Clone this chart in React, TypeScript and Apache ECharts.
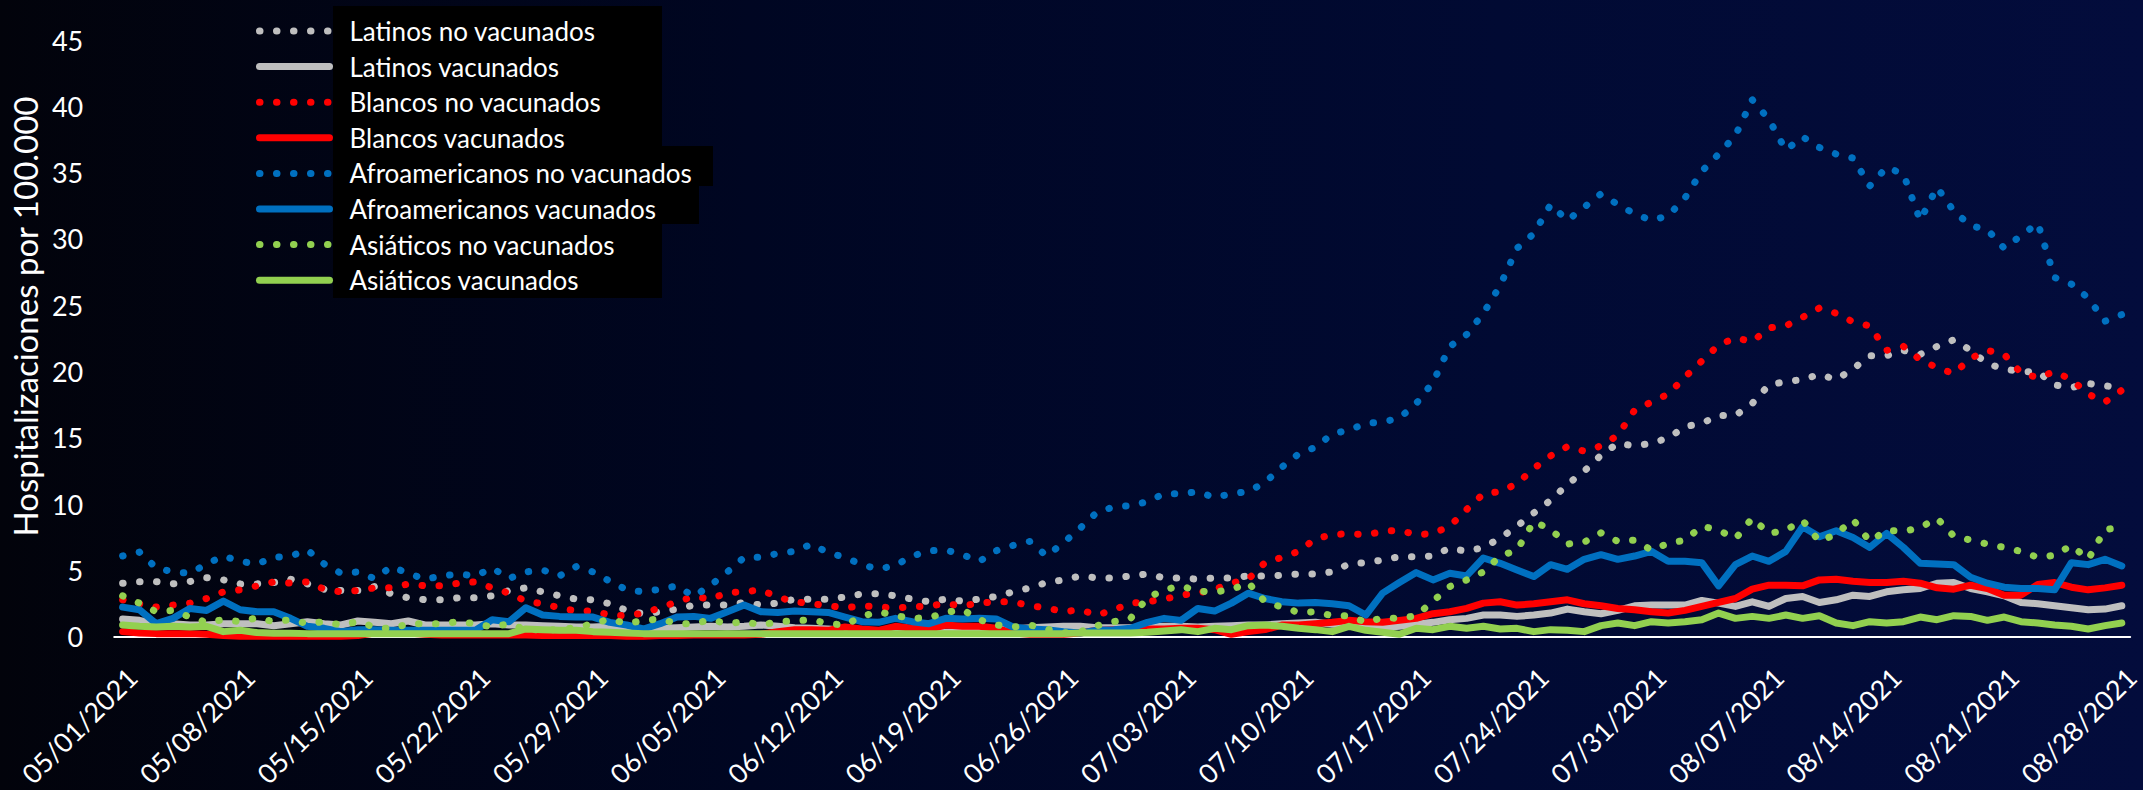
import React, { useEffect, useRef } from "react";
import * as echarts from "echarts";

// ---------- data ----------
const START = new Date(2021, 4, 1);
const categories: string[] = Array.from({ length: 120 }, (_, i) => {
  const d = new Date(START.getFullYear(), START.getMonth(), START.getDate() + i);
  const mm = String(d.getMonth() + 1).padStart(2, "0");
  const dd = String(d.getDate()).padStart(2, "0");
  return `${mm}/${dd}/${d.getFullYear()}`;
});

const yTicks = [0, 5, 10, 15, 20, 25, 30, 35, 40, 45];

const latinosNoVac = [
  4.05, 4.17, 4.17, 4.0, 4.17, 4.47, 4.3, 4.0, 4.0, 4.1,
  4.35, 4.0, 3.6, 3.5, 3.5, 3.8, 3.25, 2.95, 2.8, 2.8,
  2.95, 2.95, 3.1, 3.5, 3.7, 3.4, 3.1, 2.85, 2.8, 2.5,
  2.0, 1.75, 1.9, 2.1, 2.4, 2.4, 2.4, 2.6, 2.4, 2.55,
  2.85, 2.85, 2.85, 3.0, 3.25, 3.25, 3.1, 2.85, 2.65, 2.85,
  2.7, 2.85, 3.05, 3.4, 3.7, 4.1, 4.3, 4.6, 4.45, 4.45,
  4.6, 4.75, 4.45, 4.45, 4.35, 4.45, 4.45, 4.6, 4.6, 4.65,
  4.75, 4.75, 4.9, 5.5, 5.6, 5.8, 6.05, 6.05, 6.1, 6.7,
  6.45, 6.75, 7.45, 8.35, 9.35, 10.3, 11.5, 12.5, 13.7, 14.6,
  14.4, 14.6, 15.0, 15.85, 16.1, 16.7, 16.7, 17.6, 19.0, 19.25,
  19.4, 19.8, 19.4, 20.2, 21.2, 21.2, 21.6, 21.3, 21.9, 22.4,
  21.6, 20.6, 20.2, 20.0, 20.0, 19.0, 18.8, 19.1, 18.95, 18.7,
];

const latinosVac = [
  1.35, 1.25, 1.0, 1.0, 0.9, 0.9, 1.0, 1.0, 1.0, 0.85,
  1.0, 1.15, 1.0, 0.9, 1.2, 1.1, 1.0, 1.2, 0.9, 0.9,
  0.9, 0.9, 1.0, 0.9, 0.9, 0.85, 0.8, 0.75, 0.75, 0.8,
  0.7, 0.55, 0.65, 0.7, 0.75, 0.8, 0.75, 0.8, 0.9, 0.8,
  0.7, 0.65, 0.6, 0.5, 0.35, 0.3, 0.3, 0.3, 0.3, 0.35,
  0.4, 0.5, 0.55, 0.6, 0.7, 0.75, 0.8, 0.8, 0.7, 0.7,
  0.7, 0.75, 0.8, 0.8, 0.75, 0.8, 0.85, 0.9, 0.9, 1.0,
  1.05, 1.1, 0.95, 0.9, 0.9, 0.7, 0.8, 0.95, 1.1, 1.3,
  1.4, 1.65, 1.65, 1.55, 1.65, 1.8, 2.1, 1.9, 1.75, 2.0,
  2.35, 2.4, 2.4, 2.4, 2.75, 2.55, 2.3, 2.65, 2.3, 2.9,
  3.05, 2.6, 2.8, 3.15, 3.05, 3.4, 3.55, 3.65, 4.05, 4.1,
  3.65, 3.4, 3.1, 2.6, 2.5, 2.35, 2.2, 2.05, 2.1, 2.35,
];

const blancosNoVac = [
  2.8, 2.5, 2.25, 2.4, 2.55, 2.9, 3.4, 3.55, 3.85, 4.15,
  4.05, 4.15, 3.6, 3.4, 3.5, 3.7, 3.7, 4.0, 3.85, 3.85,
  4.05, 4.15, 3.7, 3.3, 2.7, 2.5, 2.2, 1.95, 1.95, 1.65,
  1.6, 1.8, 2.2, 2.65, 3.05, 2.85, 3.35, 3.4, 3.55, 3.0,
  2.65, 2.5, 2.35, 2.2, 2.35, 2.25, 2.2, 2.25, 2.35, 2.5,
  2.35, 2.55, 2.65, 2.65, 2.35, 2.2, 1.9, 2.05, 1.65, 2.05,
  2.55, 2.65, 2.85, 3.15, 3.3, 3.6, 4.05, 4.35, 5.6, 6.0,
  6.45, 7.4, 7.7, 7.8, 7.7, 7.95, 8.05, 7.7, 7.8, 8.35,
  9.6, 10.8, 10.95, 11.55, 12.7, 13.65, 14.35, 14.0, 14.4, 15.2,
  17.1, 17.7, 18.3, 19.6, 20.8, 22.0, 22.55, 22.25, 23.3, 23.45,
  24.1, 24.8, 24.4, 23.75, 23.45, 21.6, 21.9, 20.9, 20.3, 19.85,
  21.0, 21.6, 21.3, 19.9, 19.55, 20.0, 19.4, 18.3, 17.7, 18.6,
];

const blancosVac = [
  0.4, 0.3, 0.25, 0.25, 0.25, 0.2, 0.1, 0.05, 0.05, 0.05,
  0.05, 0.05, 0.05, 0.05, 0.1, 0.3, 0.45, 0.3, 0.2, 0.15,
  0.15, 0.15, 0.15, 0.15, 0.15, 0.1, 0.1, 0.1, 0.1, 0.1,
  0.05, 0.05, 0.1, 0.1, 0.15, 0.15, 0.15, 0.15, 0.2, 0.4,
  0.55, 0.55, 0.5, 0.75, 0.6, 0.5, 0.8, 0.65, 0.6, 0.9,
  0.8, 0.8, 0.65, 0.3, 0.2, 0.2, 0.2, 0.3, 0.5, 0.55,
  0.55, 0.6, 0.6, 0.65, 0.65, 0.55, 0.2, 0.4, 0.55, 0.9,
  0.9, 1.0, 1.1, 1.25, 1.15, 1.1, 1.25, 1.4, 1.75, 1.9,
  2.15, 2.55, 2.65, 2.4, 2.5, 2.65, 2.8, 2.5, 2.35, 2.15,
  2.05, 1.9, 1.8, 2.0, 2.3, 2.6, 2.9, 3.6, 3.9, 3.9,
  3.85, 4.3, 4.35, 4.2, 4.1, 4.1, 4.2, 4.05, 3.7, 3.6,
  3.9, 3.65, 3.15, 3.15, 3.95, 4.1, 3.75, 3.55, 3.7, 3.9,
];

const afroNoVac = [
  6.1, 6.4, 5.2, 4.9, 4.8, 5.5, 6.1, 5.7, 5.5, 6.0,
  6.1, 6.55, 5.5, 4.8, 4.9, 4.4, 5.3, 4.8, 4.35, 4.6,
  4.75, 4.6, 5.2, 4.4, 4.9, 5.05, 4.6, 5.3, 4.9, 4.2,
  3.55, 3.4, 3.6, 3.85, 3.05, 3.9, 4.9, 6.0, 6.0, 6.3,
  6.45, 7.0, 6.35, 6.0, 5.45, 5.1, 5.4, 6.1, 6.5, 6.55,
  6.2, 5.7, 6.5, 6.9, 7.2, 6.1, 7.1, 8.2, 9.4, 9.8,
  9.9, 10.2, 10.8, 10.8, 10.95, 10.5, 10.8, 10.95, 11.65, 12.8,
  13.8, 14.3, 15.3, 15.6, 16.1, 16.2, 16.5, 17.6, 19.2, 21.9,
  22.8, 24.4, 26.5, 29.3, 30.4, 32.6, 31.4, 32.4, 33.4, 32.6,
  31.9, 31.4, 31.75, 33.1, 35.1, 36.4, 37.8, 40.5, 39.0, 36.7,
  37.7, 36.9, 36.4, 36.1, 34.0, 35.4, 34.9, 31.4, 33.9, 32.1,
  31.0, 30.7, 29.3, 30.25, 31.2, 27.1, 26.6, 25.55, 23.8, 24.3,
];

const afroVac = [
  2.25, 2.05, 1.0, 1.4, 2.15, 2.0, 2.7, 2.05, 1.9, 1.9,
  1.4, 0.8, 0.65, 0.4, 0.55, 0.55, 0.5, 0.5, 0.5, 0.5,
  0.5, 0.5, 1.3, 1.15, 2.2, 1.65, 1.55, 1.5, 1.5, 1.1,
  0.9, 0.6, 1.0, 1.5, 1.55, 1.4, 1.9, 2.4, 1.9, 1.85,
  1.95, 1.9, 1.85, 1.5, 1.15, 1.1, 1.4, 1.15, 1.0, 1.4,
  1.35, 1.4, 1.35, 0.75, 0.6, 0.55, 0.4, 0.3, 0.5, 0.55,
  0.65, 1.1, 1.4, 1.25, 2.15, 1.95, 2.55, 3.3, 2.9, 2.65,
  2.55, 2.6, 2.5, 2.35, 1.65, 3.3, 4.1, 4.85, 4.3, 4.8,
  4.6, 5.95, 5.55, 5.05, 4.55, 5.45, 5.1, 5.85, 6.2, 5.85,
  6.1, 6.45, 5.7, 5.7, 5.6, 3.85, 5.45, 6.1, 5.7, 6.45,
  8.3, 7.55, 8.0, 7.5, 6.75, 7.8, 6.75, 5.55, 5.5, 5.45,
  4.5, 4.05, 3.75, 3.65, 3.65, 3.55, 5.6, 5.45, 5.85, 5.35,
];

const asiaticosNoVac = [
  3.1, 2.55, 1.9, 2.0, 1.5, 1.1, 1.3, 1.15, 1.45, 1.15,
  1.3, 1.0, 1.15, 0.9, 1.15, 0.75, 0.6, 1.0, 1.0, 1.0,
  1.15, 1.0, 0.75, 1.0, 0.55, 0.55, 0.55, 0.7, 1.0, 1.35,
  1.0, 1.25, 1.35, 1.0, 1.0, 1.3, 1.0, 1.15, 0.9, 1.15,
  1.2, 1.3, 1.0, 0.9, 1.55, 1.9, 1.6, 1.4, 1.45, 1.85,
  2.05, 1.3, 0.9, 0.75, 0.9, 0.6, 0.3, 0.4, 0.85, 1.15,
  1.4, 2.95, 3.55, 3.85, 3.45, 3.4, 3.55, 4.1, 2.65, 2.25,
  1.85, 1.9, 1.6, 1.6, 1.1, 1.45, 1.4, 1.6, 2.7, 3.8,
  4.3, 4.9, 6.1, 6.55, 8.7, 8.1, 7.0, 7.15, 7.85, 7.2,
  7.3, 6.55, 7.05, 7.3, 8.35, 8.05, 7.4, 8.95, 7.8, 8.05,
  8.8, 7.2, 7.75, 8.85, 7.2, 8.05, 7.95, 8.25, 8.95, 7.6,
  7.3, 7.0, 6.75, 6.45, 6.0, 6.15, 6.9, 5.85, 8.1, 8.25,
];

const asiaticosVac = [
  0.9, 0.8, 0.75, 0.8, 0.75, 0.8, 0.4, 0.5, 0.33, 0.28,
  0.28, 0.25, 0.25, 0.25, 0.25, 0.25, 0.25, 0.25, 0.25, 0.25,
  0.25, 0.25, 0.25, 0.25, 0.6, 0.55, 0.5, 0.5, 0.4, 0.35,
  0.3, 0.25, 0.25, 0.25, 0.25, 0.25, 0.25, 0.25, 0.25, 0.25,
  0.25, 0.25, 0.25, 0.25, 0.25, 0.25, 0.25, 0.25, 0.25, 0.25,
  0.25, 0.25, 0.25, 0.25, 0.25, 0.25, 0.25, 0.3, 0.3, 0.3,
  0.3, 0.35, 0.45, 0.55, 0.4, 0.65, 0.55, 0.85, 0.9, 0.8,
  0.65, 0.55, 0.4, 0.8, 0.5, 0.35, 0.2, 0.65, 0.55, 0.8,
  0.65, 0.8, 0.6, 0.65, 0.4, 0.55, 0.5, 0.4, 0.85, 1.05,
  0.85, 1.15, 1.05, 1.15, 1.3, 1.8, 1.4, 1.55, 1.4, 1.65,
  1.4, 1.6, 1.05, 0.85, 1.15, 1.05, 1.15, 1.5, 1.3, 1.6,
  1.55, 1.25, 1.5, 1.15, 1.05, 0.9, 0.8, 0.6, 0.85, 1.05,
];

const seriesNames = [
  "Latinos no vacunados",
  "Latinos vacunados",
  "Blancos no vacunados",
  "Blancos vacunados",
  "Afroamericanos no vacunados",
  "Afroamericanos vacunados",
  "Asiáticos no vacunados",
  "Asiáticos vacunados",
];
const seriesData = [
  latinosNoVac, latinosVac, blancosNoVac, blancosVac,
  afroNoVac, afroVac, asiaticosNoVac, asiaticosVac,
];
const seriesColors = ["#BFBFBF", "#BFBFBF", "#FF0000", "#FF0000", "#0070C0", "#0070C0", "#92D050", "#92D050"];
const seriesDotted = [true, false, true, false, true, false, true, false];

const FONT = "Lato, 'Noto Sans', sans-serif";

export default function App() {
  const ref = useRef<HTMLDivElement>(null);

  useEffect(() => {
    if (!ref.current) return;
    const chart = echarts.init(ref.current, undefined, { renderer: "svg" });

    const series = seriesNames.map((name, i) => ({
      name,
      type: "line",
      data: seriesData[i],
      symbol: "none",
      silent: true,
      lineStyle: seriesDotted[i]
        ? { color: seriesColors[i], width: 7, type: [0.5, 16.5], cap: "round", join: "round" }
        : { color: seriesColors[i], width: 7, type: "solid", cap: "round", join: "round" },
      itemStyle: { color: seriesColors[i] },
      emphasis: { disabled: true },
    }));

    chart.setOption({
      animation: false,
      backgroundColor: {
        type: "linear",
        x: 0, y: 0, x2: 1, y2: 0,
        colorStops: [
          { offset: 0, color: "#02030b" },
          { offset: 0.35, color: "#000622" },
          { offset: 0.7, color: "#010a33" },
          { offset: 1, color: "#030c3c" },
        ],
      },
      textStyle: { fontFamily: FONT },
      grid: { left: 114, right: 11, top: 40, bottom: 153, containLabel: false },
      graphic: [
        { type: "rect", z: 1, shape: { x: 333, y: 6, width: 329, height: 292 }, style: { fill: "#000000" } },
        { type: "rect", z: 1, shape: { x: 333, y: 146, width: 380, height: 40 }, style: { fill: "#000000" } },
        { type: "rect", z: 1, shape: { x: 333, y: 186, width: 366, height: 38 }, style: { fill: "#000000" } },
      ],
      legend: {
        z: 10,
        orient: "vertical",
        left: 251,
        top: 10,
        itemWidth: 70,
        itemHeight: 14,
        itemGap: 3.6,
        selectedMode: false,
        data: seriesNames,
        lineStyle: { width: 7 },
        itemStyle: { opacity: 0 },
        textStyle: { color: "#ffffff", fontSize: 26, fontFamily: FONT, lineHeight: 32, padding: [0, 0, 0, 15] },
      },
      xAxis: {
        type: "category",
        data: categories,
        boundaryGap: true,
        axisLine: { show: true, lineStyle: { color: "#ffffff", width: 2 } },
        axisTick: { show: false },
        splitLine: { show: false },
        axisLabel: {
          interval: 6,
          rotate: 45,
          color: "#ffffff",
          fontSize: 27,
          fontFamily: FONT,
          margin: 26,
          align: "right",
          verticalAlign: "top",
        },
      },
      yAxis: {
        type: "value",
        min: yTicks[0],
        max: yTicks[yTicks.length - 1],
        interval: 5,
        axisLine: { show: false },
        axisTick: { show: false },
        splitLine: { show: false },
        axisLabel: { color: "#ffffff", fontSize: 27, fontFamily: FONT, margin: 31 },
        name: "Hospitalizaciones por 100.000",
        nameLocation: "middle",
        nameGap: 68,
        nameTextStyle: { color: "#ffffff", fontSize: 33, fontFamily: FONT, padding: [0, 0, 0, 44] },
      },
      series,
    });

    return () => chart.dispose();
  }, []);

  return (
    <div
      ref={ref}
      style={{ position: "fixed", left: 0, top: 0, width: 2143, height: 790 }}
    />
  );
}
